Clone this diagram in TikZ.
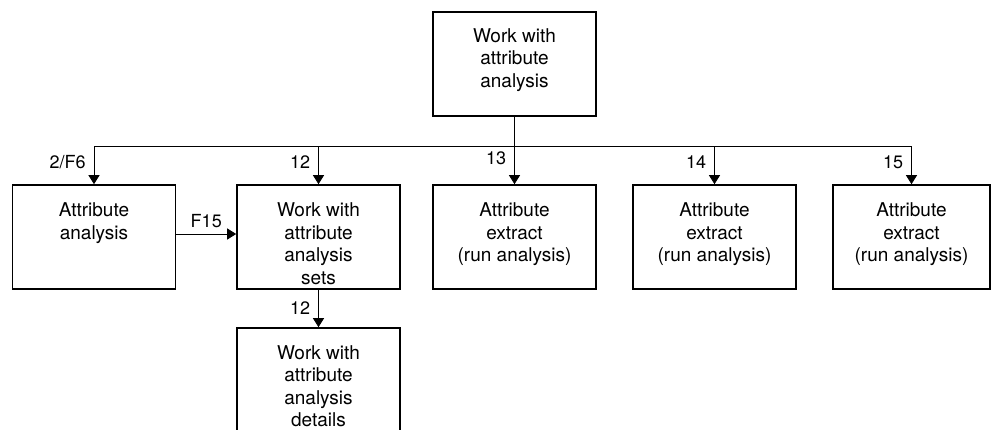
\documentclass[tikz,border=0pt]{standalone}
\usepackage{fontspec}
\setmainfont{TeX Gyre Heros}
\usetikzlibrary{arrows.meta}
\begin{document}
\begin{tikzpicture}[
    x=1pt, y=-1pt,
    box/.style={rectangle, draw, line width=1.6pt, minimum width=163pt, minimum height=104pt, inner sep=0pt},
    txt/.style={anchor=north, align=center, inner sep=0pt, font=\fontsize{19}{22.5}\selectfont},
    link/.style={-{Triangle[length=9pt, width=11pt]}, line width=0.9pt},
    num/.style={font=\fontsize{18}{21}\selectfont, inner sep=1pt}
]
\useasboundingbox (0,0) rectangle (993,430);

% Top level
\node[box] (main) at (514.5,64) {};
\node[txt] (main_txt) at (514.5,28) {Work with\\attribute\\analysis};

% Option row
\node[box] (analysis) at (94,237) {};
\node[txt] (analysis_txt) at (94,202.5) {Attribute\\analysis};
\node[box] (sets) at (318.5,237) {};
\node[txt] (sets_txt) at (318.5,202.5) {Work with\\attribute\\analysis\\sets};
\node[box] (extract13) at (514.5,237) {};
\node[txt] (extract13_txt) at (514.5,202.5) {Attribute\\extract\\(run analysis)};
\node[box] (extract14) at (714.5,237) {};
\node[txt] (extract14_txt) at (714.5,202.5) {Attribute\\extract\\(run analysis)};
\node[box, minimum width=157pt] (extract15) at (911.5,237) {};
\node[txt] (extract15_txt) at (911.5,202.5) {Attribute\\extract\\(run analysis)};

% Details under the sets
\node[box] (details) at (318.5,380) {};
\node[txt] (details_txt) at (318.5,345) {Work with\\attribute\\analysis\\details};

% Menu options
\draw[link] (main.south) -- ++(0,30) -| (analysis.north) node[pos=0.705, left=7pt, num] {2/F6};
\draw[link] (main.south) -- ++(0,30) -| (sets.north) node[pos=0.705, left=7pt, num] {12};
\draw[link] (main.south) -- (extract13.north) node[pos=0.61, left=7pt, num] {13};
\draw[link] (main.south) -- ++(0,30) -| (extract14.north) node[pos=0.705, left=7pt, num] {14};
\draw[link] (main.south) -- ++(0,30) -| (extract15.north) node[pos=0.705, left=7pt, num] {15};

% Function keys
\draw[link] ([yshift=3pt]analysis.east) -- ([yshift=3pt]sets.west) node[midway, above=5pt, num] {F15};
\draw[link] (sets.south) -- (details.north) node[midway, left=7pt, num] {12};

\end{tikzpicture}
\end{document}
